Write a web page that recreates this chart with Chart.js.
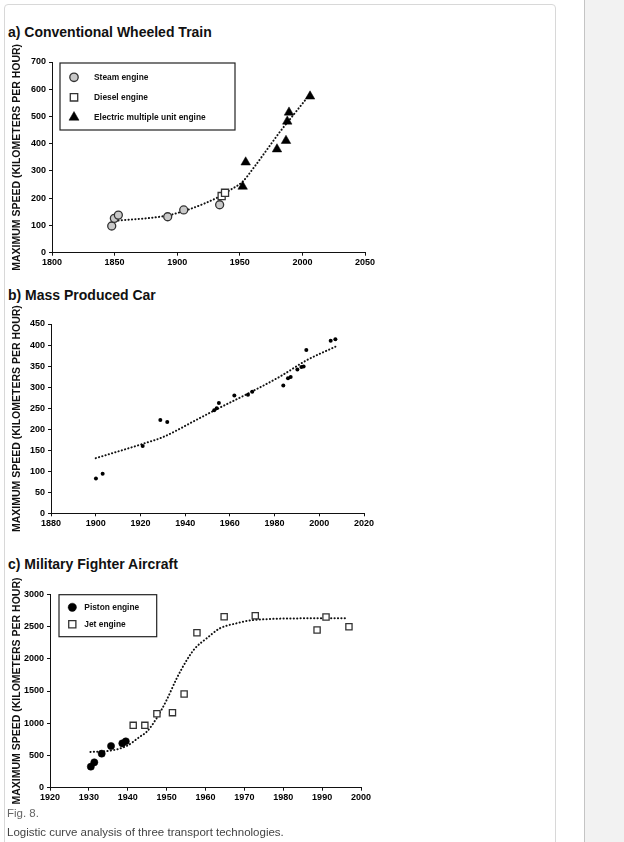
<!DOCTYPE html>
<html>
<head>
<meta charset="utf-8">
<script src="https://cdn.jsdelivr.net/npm/chart.js@4.4.1/dist/chart.umd.min.js"></script>
<style>
  html, body { margin: 0; padding: 0; background: #fff; }
  body { width: 624px; height: 842px; position: relative; overflow: hidden; font-family: 'Liberation Sans', Arial, sans-serif; }
  .frame { position: absolute; left: 4px; top: 4px; width: 550px; height: 900px; border: 1px solid #d8d8d8; border-radius: 4px; }
  .sidebar { position: absolute; left: 584px; top: 0; width: 40px; height: 842px; background: #f2f2f2; border-left: 1px solid #c4c4c4; }
  .panel-title { position: absolute; left: 8px; font-weight: bold; font-size: 14px; line-height: 16px; color: #111; white-space: nowrap; }
  .caption { position: absolute; left: 7px; font-size: 11.5px; line-height: 14px; white-space: nowrap; }
  canvas { position: absolute; left: 0; }
</style>
</head>
<body>
<div class="frame"></div>
<div class="sidebar"></div>

<div class="panel-title" style="top:24px">a) Conventional Wheeled Train</div>
<canvas id="trainChart" width="390" height="238" style="top:42px"></canvas>

<div class="panel-title" style="top:287px">b) Mass Produced Car</div>
<canvas id="carChart" width="390" height="236" style="top:305px"></canvas>

<div class="panel-title" style="top:556px">c) Military Fighter Aircraft</div>
<canvas id="fighterChart" width="390" height="242" style="top:574px"></canvas>

<div class="caption" style="top:806px; color:#666">Fig. 8.</div>
<div class="caption" style="top:825px; color:#444">Logistic curve analysis of three transport technologies.</div>

<script>
// a) Conventional wheeled train
const steamYears = [1847.7, 1849.8, 1853, 1892.4, 1905.2, 1933.9];
const steamSpeeds = [98, 126, 138, 132, 157, 176];
const dieselYears = [1935.5, 1938.2];
const dieselSpeeds = [208, 220];
const electricYears = [1952.3, 1954.7, 1979.7, 1986.9, 1987.9, 1989.3, 2006.1];
const electricSpeeds = [243, 332, 380, 411, 482, 515, 574];
const trainTrendYears = [1850.3, 1891.6, 1905.4, 1920.9, 1933.6, 1942.2, 1952.3, 1960.8, 1971.5, 1982.1, 1992.7, 2005.5];
const trainTrendSpeeds = [117, 136, 153, 179, 206, 230, 261, 310, 377, 444, 505, 579];

// b) Mass produced car
const carYears = [1900.1, 1903.1, 1921.0, 1928.9, 1932.0, 1953.0, 1954.1, 1955.1, 1962.0, 1968.1, 1970.0, 1983.9, 1986.0, 1987.2, 1990.2, 1992.0, 1993.0, 1994.2, 2005.1, 2007.2];
const carSpeeds = [83, 94, 160, 222, 217, 245, 250, 262, 280, 282, 289, 304, 321, 324, 342, 348, 349, 388, 410, 414];
const carTrendYears = [1900, 1921, 1930, 1945, 1954, 1967.5, 1982.4, 1994.4, 2007.2];
const carTrendSpeeds = [131, 165, 181, 222, 247, 283, 325, 364, 396];

// c) Military fighter aircraft
const pistonYears = [1930.5, 1931.4, 1933.3, 1935.7, 1938.6, 1939.5];
const pistonSpeeds = [326, 394, 528, 647, 688, 719];
const jetYears = [1941.4, 1944.4, 1947.5, 1951.5, 1954.5, 1957.8, 1964.8, 1972.8, 1988.7, 1991.0, 1996.9];
const jetSpeeds = [967, 967, 1148, 1164, 1453, 2404, 2652, 2668, 2446, 2648, 2497];
const fighterTrendYears = [1930.4, 1935.4, 1939.7, 1943.1, 1944.9, 1947.4, 1950, 1952.6, 1955.2, 1957.3, 1960.3, 1963.7, 1968, 1972.3, 1987.7, 1996];
const fighterTrendSpeeds = [555, 574, 647, 790, 869, 1076, 1360, 1697, 1981, 2162, 2317, 2472, 2550, 2601, 2627, 2627];

const yTitle = 'MAXIMUM SPEED (KILOMETERS PER HOUR)';
const fontFamily = "'Liberation Sans', Arial, sans-serif";

function toPoints(xs, ys) {
    return xs.map((x, i) => ({ x: x, y: ys[i] }));
}

function trendDataset(xs, ys) {
    return {
        label: 'trend',
        data: toPoints(xs, ys),
        showLine: true,
        hideInLegend: true,
        borderColor: '#111',
        borderWidth: 2,
        borderDash: [0.2, 3.2],
        borderCapStyle: 'round',
        cubicInterpolationMode: 'monotone',
        pointRadius: 0,
        order: 5
    };
}

function drawMarker(ctx, style, x, y, r) {
    ctx.beginPath();
    if (style === 'rect') {
        const s = r * Math.SQRT1_2;
        ctx.rect(x - s, y - s, 2 * s, 2 * s);
    } else if (style === 'triangle') {
        ctx.moveTo(x, y - r);
        ctx.lineTo(x + r * 0.866, y + r / 2);
        ctx.lineTo(x - r * 0.866, y + r / 2);
        ctx.closePath();
    } else {
        ctx.arc(x, y, r, 0, Math.PI * 2);
    }
    ctx.fill();
    ctx.stroke();
}

// legend drawn as a framed box inside the plot area
const boxLegend = {
    id: 'boxLegend',
    afterDraw(chart, args, opts) {
        const ctx = chart.ctx;
        const area = chart.chartArea;
        const x0 = area.left + opts.x;
        const y0 = area.top + opts.y;
        ctx.save();
        ctx.fillStyle = '#fff';
        ctx.fillRect(x0, y0, opts.width, opts.height);
        ctx.lineWidth = 1.2;
        ctx.strokeStyle = '#222';
        ctx.strokeRect(x0, y0, opts.width, opts.height);
        const items = chart.data.datasets.filter(d => !d.hideInLegend);
        items.forEach((ds, i) => {
            const cy = y0 + opts.firstRow + i * opts.rowGap;
            ctx.fillStyle = ds.backgroundColor;
            ctx.strokeStyle = ds.borderColor;
            ctx.lineWidth = ds.borderWidth;
            drawMarker(ctx, ds.pointStyle, x0 + opts.markerX, cy, ds.pointRadius * opts.markerScale);
            ctx.fillStyle = '#111';
            ctx.font = 'bold 8.4px ' + fontFamily;
            ctx.textBaseline = 'middle';
            ctx.fillText(ds.label, x0 + opts.textX, cy + 0.5);
        });
        ctx.restore();
    }
};

function makeOptions(p) {
    const tickFont = { family: fontFamily, size: 9, weight: 'bold' };
    return {
        responsive: false,
        animation: false,
        devicePixelRatio: 1,
        events: [],
        layout: { padding: { top: p.padTop, right: p.padRight, left: 0, bottom: 0 } },
        scales: {
            x: {
                type: 'linear',
                min: p.xMin, max: p.xMax,
                ticks: { stepSize: p.xStep, font: tickFont, color: '#000', padding: 1.5, maxRotation: 0,
                         callback: v => String(v) },
                grid: { drawOnChartArea: false, tickLength: 3, color: '#111' },
                border: { color: '#111', width: 1 },
                afterFit: scale => { scale.height = p.xHeight; }
            },
            y: {
                type: 'linear',
                min: p.yMin, max: p.yMax,
                ticks: { stepSize: p.yStep, font: tickFont, color: '#000', padding: 3,
                         callback: v => String(v) },
                grid: { drawOnChartArea: false, tickLength: 3, color: '#111' },
                border: { color: '#111', width: 1 },
                title: { display: true, text: yTitle, color: '#111',
                         font: { family: fontFamily, size: 10.5, weight: 'bold' },
                         padding: { top: 10.7, bottom: 0 } },
                afterFit: scale => { scale.width = p.yWidth; }
            }
        },
        plugins: {
            legend: { display: false },
            tooltip: { enabled: false },
            boxLegend: p.legend || false
        }
    };
}

new Chart(document.getElementById('trainChart'), {
    type: 'scatter',
    data: {
        datasets: [
            { label: 'Steam engine', data: toPoints(steamYears, steamSpeeds), pointStyle: 'circle', pointRadius: 4,
              backgroundColor: '#c9c9c9', borderColor: '#333', borderWidth: 1.3, order: 1 },
            { label: 'Diesel engine', data: toPoints(dieselYears, dieselSpeeds), pointStyle: 'rect', pointRadius: 5,
              backgroundColor: '#fff', borderColor: '#333', borderWidth: 1.3, order: 1 },
            { label: 'Electric multiple unit engine', data: toPoints(electricYears, electricSpeeds), pointStyle: 'triangle', pointRadius: 5.5,
              backgroundColor: '#000', borderColor: '#000', borderWidth: 0.5, order: 1 },
            trendDataset(trainTrendYears, trainTrendSpeeds)
        ]
    },
    options: makeOptions({
        xMin: 1800, xMax: 2050, xStep: 50, yMin: 0, yMax: 700, yStep: 100,
        padTop: 20, padRight: 25, yWidth: 52, xHeight: 27.3,
        legend: { x: 8, y: 1, width: 175, height: 67, markerX: 14, textX: 34, firstRow: 14.3, rowGap: 20, markerScale: 1.05 }
    }),
    plugins: [boxLegend]
});

new Chart(document.getElementById('carChart'), {
    type: 'scatter',
    data: {
        datasets: [
            { label: 'Car', data: toPoints(carYears, carSpeeds), pointStyle: 'circle', pointRadius: 2,
              backgroundColor: '#000', borderColor: '#000', borderWidth: 0, hideInLegend: true, order: 1 },
            trendDataset(carTrendYears, carTrendSpeeds)
        ]
    },
    options: makeOptions({
        xMin: 1880, xMax: 2020, xStep: 20, yMin: 0, yMax: 450, yStep: 50,
        padTop: 19, padRight: 26, yWidth: 51, xHeight: 27.7
    })
});

new Chart(document.getElementById('fighterChart'), {
    type: 'scatter',
    data: {
        datasets: [
            { label: 'Piston engine', data: toPoints(pistonYears, pistonSpeeds), pointStyle: 'circle', pointRadius: 3.6,
              backgroundColor: '#000', borderColor: '#000', borderWidth: 0.5, order: 1 },
            { label: 'Jet engine', data: toPoints(jetYears, jetSpeeds), pointStyle: 'rect', pointRadius: 4.4,
              backgroundColor: '#fff', borderColor: '#333', borderWidth: 1.3, order: 1 },
            trendDataset(fighterTrendYears, fighterTrendSpeeds)
        ]
    },
    options: makeOptions({
        xMin: 1920, xMax: 2000, xStep: 10, yMin: 0, yMax: 3000, yStep: 500,
        padTop: 20.3, padRight: 29, yWidth: 50, xHeight: 28.3,
        legend: { x: 9, y: 0.4, width: 97.7, height: 42, markerX: 13.3, textX: 25.3, firstRow: 12.6, rowGap: 17, markerScale: 1.15 }
    }),
    plugins: [boxLegend]
});
</script>
</body>
</html>
